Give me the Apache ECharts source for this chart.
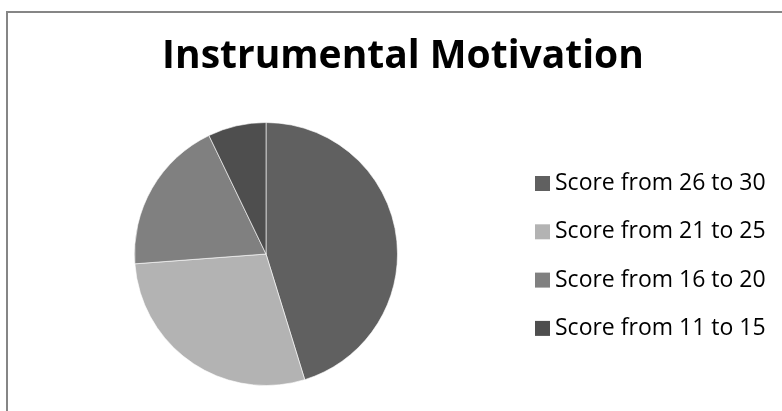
<!DOCTYPE html>
<html>
<head>
<meta charset="utf-8">
<title>Instrumental Motivation</title>
<script src="https://cdn.jsdelivr.net/npm/echarts@6/dist/echarts.min.js"></script>
<style>
    html, body {margin: 0; padding: 0; background: #fff;}
    #main {width: 782px; height: 411px;}
</style>
</head>
<body>
<div id="main"></div>
<script>
var title = 'Instrumental Motivation';
var categories = ['Score from 26 to 30', 'Score from 21 to 25', 'Score from 16 to 20', 'Score from 11 to 15'];
var counts = [19, 12, 8, 3];
var palette = ['#606060', '#b3b3b3', '#808080', '#4e4e4e'];

function draw(){
    var myChart = echarts.init(document.getElementById('main'));

    var pieData = [];
    for(var i = 0; i < categories.length; i++){
        pieData.push({
            name: categories[i],
            value: counts[i],
            itemStyle: {color: palette[i]}
        });
    }

    var option = {
        animation: false,
        backgroundColor: '#fff',
        title: {
            text: title,
            left: 398,
            textAlign: 'center',
            top: 32,
            textStyle: {
                fontFamily: 'Open Sans',
                fontWeight: 'bold',
                fontSize: 39,
                color: '#000'
            }
        },
        legend: {
            orient: 'vertical',
            left: 530,
            top: 167,
            itemWidth: 15,
            itemHeight: 15,
            itemGap: 25.3,
            icon: 'rect',
            itemStyle: {borderWidth: 0},
            data: categories,
            textStyle: {
                fontFamily: 'Open Sans',
                fontSize: 23,
                color: '#000'
            }
        },
        graphic: [
            {
                type: 'rect',
                silent: true,
                shape: {x: 7, y: 12, width: 800, height: 420},
                style: {fill: 'none', stroke: '#868686', lineWidth: 2}
            }
        ],
        series: [
            {
                name: title,
                type: 'pie',
                center: [266, 254],
                radius: 131.5,
                startAngle: 90,
                clockwise: true,
                label: {show: false},
                labelLine: {show: false},
                emphasis: {disabled: true},
                itemStyle: {borderColor: '#ffffff', borderWidth: 0.6},
                data: pieData
            }
        ]
    };

    myChart.setOption(option);
}

draw();
</script>
</body>
</html>
